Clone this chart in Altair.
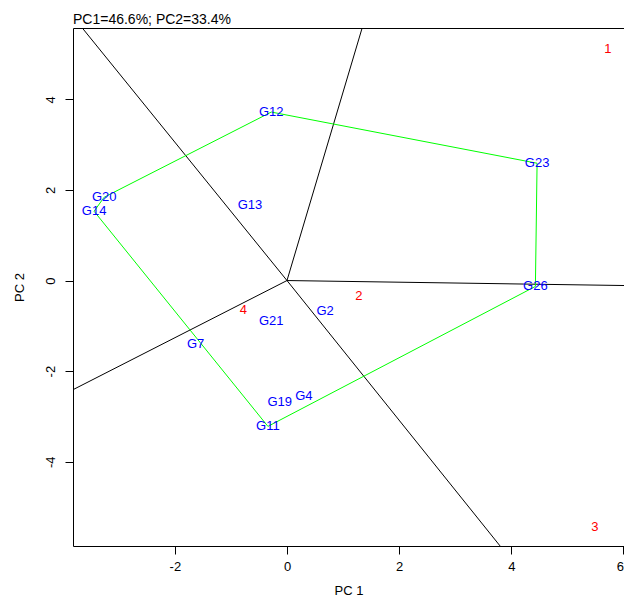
import altair as alt
import pandas as pd

FONT = "Liberation Sans"

# Genotype scores (PC1, PC2)
gen_names = ["G12", "G23", "G26", "G11", "G14", "G20", "G13", "G21", "G2", "G7", "G19", "G4"]
gen_x = [-0.28, 4.46, 4.43, -0.34, -3.44, -3.26, -0.66, -0.28, 0.68, -1.63, -0.13, 0.30]
gen_y = [3.72, 2.59, -0.13, -3.22, 1.53, 1.84, 1.66, -0.90, -0.68, -1.41, -2.69, -2.55]

# Environment scores
env_names = ["1", "2", "3", "4"]
env_x = [5.72, 1.28, 5.49, -0.78]
env_y = [5.12, -0.34, -5.44, -0.64]

# Convex hull (polygon) vertex order
hull_names = ["G12", "G23", "G26", "G11", "G14", "G20", "G12"]

# Sector rays from the origin (end points)
ray_x = [-3.65, 3.80, 1.34, 6.01, -3.816]
ray_y = [5.576, -5.86, 5.576, -0.11, -2.41]

x_ticks = [-2, 0, 2, 4, 6]
y_ticks = [-4, -2, 0, 2, 4]

title_text = "PC1=46.6%; PC2=33.4%"

x_dom = [-3.816, 6.01]
y_dom = [-5.861, 5.576]

gen = pd.DataFrame({"name": gen_names, "x": gen_x, "y": gen_y})
env = pd.DataFrame({"name": env_names, "x": env_x, "y": env_y})
pos = dict(zip(gen_names, zip(gen_x, gen_y)))
hull = pd.DataFrame({
    "order": list(range(len(hull_names))),
    "x": [pos[n][0] for n in hull_names],
    "y": [pos[n][1] for n in hull_names],
})
rays = pd.DataFrame({"x0": [0.0] * len(ray_x), "y0": [0.0] * len(ray_y), "x1": ray_x, "y1": ray_y})

xs = alt.Scale(domain=x_dom, nice=False, zero=False)
ys = alt.Scale(domain=y_dom, nice=False, zero=False)

xax = alt.Axis(values=x_ticks, title="PC 1", grid=False, domain=False,
               labelExpr="'' + datum.value",
               tickSize=8, tickColor="black", labelColor="black", labelFont=FONT,
               labelFontSize=13, labelPadding=6, titleFont=FONT, titleFontSize=13,
               titleFontWeight="normal", titleColor="black", titleBaseline="middle",
               titleY=44)
yax = alt.Axis(values=y_ticks, title="PC 2", grid=False, domain=False,
               labelExpr="'' + datum.value",
               tickSize=8, tickColor="black", labelColor="black", labelFont=FONT,
               labelFontSize=13, labelAngle=270, labelPadding=8, titleFont=FONT,
               titleFontSize=13, titleFontWeight="normal", titleColor="black",
               titleAngle=270, titleBaseline="middle", titleX=-54)

ray_layer = alt.Chart(rays).mark_rule(color="black", strokeWidth=1, clip=True).encode(
    x=alt.X("x0:Q", scale=xs, axis=xax),
    y=alt.Y("y0:Q", scale=ys, axis=yax),
    x2="x1:Q",
    y2="y1:Q",
)

hull_layer = alt.Chart(hull).mark_line(color="#00FF00", strokeWidth=1, clip=True).encode(
    x=alt.X("x:Q", scale=xs),
    y=alt.Y("y:Q", scale=ys),
    order="order:O",
)

gen_layer = alt.Chart(gen).mark_text(color="#0000FF", font=FONT, fontSize=13,
                                     align="center", baseline="middle").encode(
    x=alt.X("x:Q", scale=xs),
    y=alt.Y("y:Q", scale=ys),
    text="name:N",
)

env_layer = alt.Chart(env).mark_text(color="#FF0000", font=FONT, fontSize=13,
                                     align="center", baseline="middle").encode(
    x=alt.X("x:Q", scale=xs),
    y=alt.Y("y:Q", scale=ys),
    text="name:N",
)

title_layer = alt.Chart(pd.DataFrame({"t": [title_text]})).mark_text(
    align="left", baseline="alphabetic", font=FONT, fontSize=14, color="black"
).encode(x=alt.value(0), y=alt.value(-4), text="t:N")

chart = alt.layer(ray_layer, hull_layer, gen_layer, env_layer, title_layer).properties(
    width=551, height=518,
    autosize=alt.AutoSizeParams(type="none"),
    padding={"left": 65, "top": 20, "right": 0, "bottom": 50},
    background="white",
).configure_view(stroke="black", strokeWidth=1)

chart.save("out.html", embed_options={"renderer": "svg", "actions": False})
